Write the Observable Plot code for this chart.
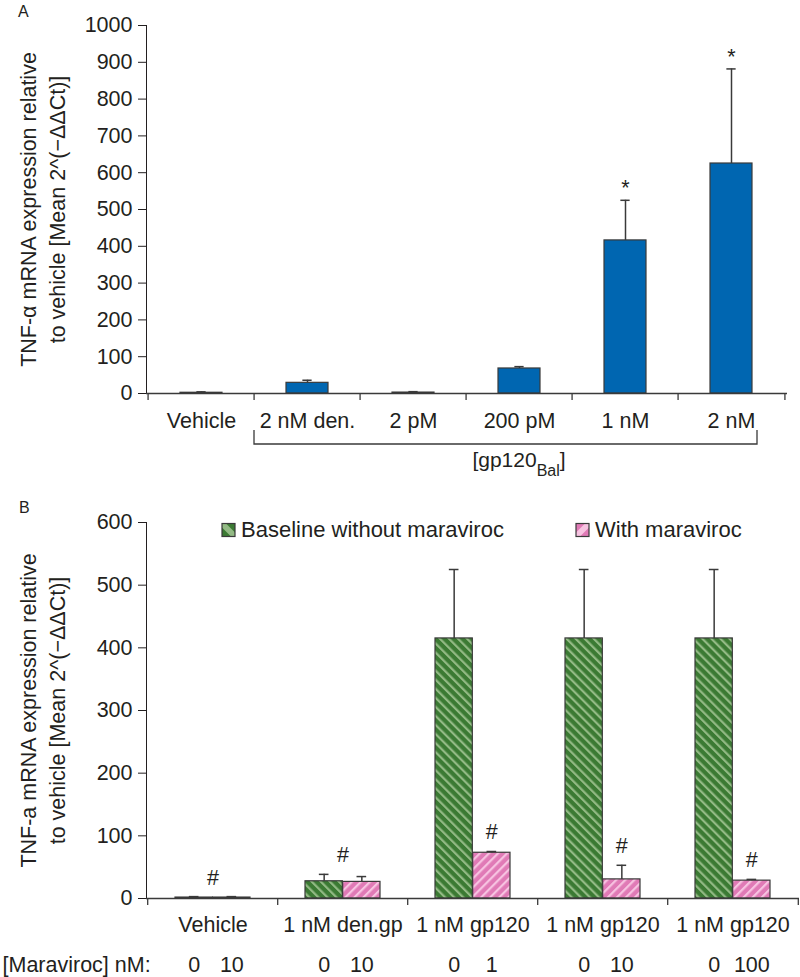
<!DOCTYPE html>
<html>
<head>
<meta charset="utf-8">
<script src="https://cdn.jsdelivr.net/npm/d3@7"></script>
<script src="https://cdn.jsdelivr.net/npm/@observablehq/plot@0.6"></script>
<style>
  body { margin: 0; background: #fff; }
  #wrap { position: relative; width: 800px; height: 977px; overflow: hidden; font-family: "Liberation Sans", Arial, Helvetica, sans-serif; color: #231f20; }
  #panelA { position: absolute; left: 0; top: 0; }
  #panelB { position: absolute; left: 0; top: 490px; }
  #overlay { position: absolute; left: 0; top: 0; pointer-events: none; }
</style>
</head>
<body>
<div id="wrap">
  <div id="panelA"></div>
  <div id="panelB"></div>
  <svg id="overlay" width="800" height="977">
    <defs>
      <pattern id="hatchGreen" patternUnits="userSpaceOnUse" width="6.4" height="6.4" patternTransform="rotate(-45)">
        <rect width="6.4" height="6.4" fill="#3b7a33"></rect>
        <rect x="0" y="0" width="2.2" height="6.4" fill="#93ba85"></rect>
      </pattern>
      <pattern id="hatchPink" patternUnits="userSpaceOnUse" width="6.4" height="6.4" patternTransform="rotate(45)">
        <rect width="6.4" height="6.4" fill="#e07ab6"></rect>
        <rect x="0" y="0" width="2.2" height="6.4" fill="#f7c3e1"></rect>
      </pattern>
    </defs>
  </svg>
</div>
<script>
// ---------------- DATA ----------------
// Panel A
const categoriesA = ["Vehicle", "2 nM den.", "2 pM", "200 pM", "1 nM", "2 nM"];
const meanA = [2, 29, 2.5, 68, 416, 625];
const errA = [2.5, 7, 2.5, 5, 109, 257];
const sigA = ["", "", "", "", "*", "*"];
const yTicksA = [0, 100, 200, 300, 400, 500, 600, 700, 800, 900, 1000];
const titleA = "TNF-\u03b1 mRNA expression relative\nto vehicle [Mean 2^(\u2212\u0394\u0394Ct)]";
const bracketStartA = "2 nM den.";
const bracketLabelA = "[gp120";
const bracketSubA = "Bal";

// Panel B
const groupLabelsB = ["Vehicle", "1 nM den.gp", "1 nM gp120", "1 nM gp120", "1 nM gp120"];
const baselineMeanB = [1.5, 27.5, 415, 415, 415];
const baselineErrB = [1.5, 11, 110, 110, 110];
const treatedMeanB = [1.5, 26.5, 73, 30.5, 28.5];
const treatedErrB = [1.5, 8.5, 2, 22.5, 2];
const baselineConcB = ["0", "0", "0", "0", "0"];
const treatedConcB = ["10", "10", "1", "10", "100"];
const sigB = ["#", "#", "#", "#", "#"];
const sigOverB = ["group", "group", "treated", "treated", "treated"];
const yTicksB = [0, 100, 200, 300, 400, 500, 600];
const titleB = "TNF-a mRNA expression relative\nto vehicle [Mean 2^(\u2212\u0394\u0394Ct)]";
const concRowLabel = "[Maraviroc] nM:";
const legendLabels = ["Baseline without maraviroc", "With maraviroc"];

// ---------------- STYLE ----------------
const FONT = '"Liberation Sans", Arial, Helvetica, sans-serif';
const INK = "#231f20";
const LINE = "#3a3a3a";
const BLUE = "#0066b1";
const W = 800;
const CAP = 10;

// ---------------- PANEL A ----------------
const dataA = categoriesA.map((c, i) => ({cat: c, mean: meanA[i], hi: meanA[i] + errA[i], sig: sigA[i]}));
const mA = {top: 25, right: 13, bottom: 97, left: 146};
const HA = 490;
const padA = 0.6;
const stepA = (W - mA.left - mA.right) / categoriesA.length;
const bwA = stepA * (1 - padA);

function bracketMark() {
  return (index, scales) => {
    const x = scales.x, y = scales.y;
    const step = x.step ? x.step() : stepA;
    const bw = x.bandwidth ? x.bandwidth() : bwA;
    const gap = (step - bw) / 2;
    const last = categoriesA[categoriesA.length - 1];
    const left = x(bracketStartA) - gap;
    const rightBound = x(last) + bw + gap;
    const right = x(last) + bw + 5;
    const y0 = y(0);
    const g = d3.create("svg:g");
    g.append("path")
      .attr("d", `M${left},${y0 + 37}V${y0 + 51}H${right}V${y0 + 37}`)
      .attr("fill", "none").attr("stroke", LINE).attr("stroke-width", 1.3);
    const t = g.append("text")
      .attr("x", (left + rightBound) / 2).attr("y", y0 + 74)
      .attr("text-anchor", "middle").attr("fill", INK)
      .attr("font-size", "21px");
    t.append("tspan").text(bracketLabelA);
    t.append("tspan").attr("dy", 9).attr("font-size", "16px").text(bracketSubA);
    t.append("tspan").attr("dy", -9).text("]");
    return g.node();
  };
}

const plotA = Plot.plot({
  width: W, height: HA,
  marginTop: mA.top, marginRight: mA.right, marginBottom: mA.bottom, marginLeft: mA.left,
  style: {fontFamily: FONT, fontSize: "21.5px", color: INK, background: "transparent", overflow: "visible"},
  x: {domain: categoriesA, paddingInner: padA, paddingOuter: padA / 2, tickSize: 0, tickPadding: 19, label: null},
  y: {domain: [0, 1000], ticks: yTicksA, tickSize: 8, tickPadding: 6, tickFormat: "d", label: null, line: true},
  marks: [
    Plot.barY(dataA, {x: "cat", y: "mean", fill: BLUE, stroke: LINE, strokeWidth: 1.2}),
    Plot.ruleX(dataA, {x: "cat", y1: "mean", y2: "hi", stroke: LINE, strokeWidth: 1.5}),
    Plot.tickY(dataA, {x: "cat", y: "hi", stroke: LINE, strokeWidth: 1.5, insetLeft: (bwA - CAP) / 2, insetRight: (bwA - CAP) / 2}),
    Plot.text(dataA.filter(d => d.sig), {x: "cat", y: "hi", text: "sig", lineAnchor: "middle", dy: -12, fill: INK}),
    Plot.ruleY([0], {stroke: LINE, strokeWidth: 1.3}),
    Plot.ruleX(categoriesA, {x: d => d, y1: () => 0, y2: () => 0, dx: -stepA / 2, insetBottom: -7, stroke: LINE, strokeWidth: 1.3}),
    Plot.ruleX(categoriesA.slice(-1), {x: d => d, y1: () => 0, y2: () => 0, dx: stepA / 2, insetBottom: -7, stroke: LINE, strokeWidth: 1.3}),
    bracketMark(),
    Plot.text([titleA], {text: d => d, frameAnchor: "left", rotate: -90, textAnchor: "middle", lineAnchor: "top", lineHeight: 1.35, dx: -131.5, fill: INK})
  ]
});
document.getElementById("panelA").appendChild(plotA);

// ---------------- PANEL B ----------------
const idxB = groupLabelsB.map((_, i) => i);
const dataB = idxB.map(i => ({
  g: i,
  base: baselineMeanB[i], baseHi: baselineMeanB[i] + baselineErrB[i],
  trt: treatedMeanB[i], trtHi: treatedMeanB[i] + treatedErrB[i],
  c0: baselineConcB[i], c1: treatedConcB[i],
  sig: sigB[i], over: sigOverB[i],
  top: Math.max(baselineMeanB[i] + baselineErrB[i], treatedMeanB[i] + treatedErrB[i])
}));
const sigDataB = dataB.map(d => ({...d, sy: d.over === "treated" ? d.trtHi : d.top}));
const mB = {top: 32, right: 1, bottom: 79, left: 146};
const HB = 487;
const padB = 0.423;
const stepB = (W - mB.left - mB.right) / groupLabelsB.length;
const bwB = stepB * (1 - padB);
const half = bwB / 2, quarter = bwB / 4;

const plotB = Plot.plot({
  width: W, height: HB,
  marginTop: mB.top, marginRight: mB.right, marginBottom: mB.bottom, marginLeft: mB.left,
  style: {fontFamily: FONT, fontSize: "21.5px", color: INK, background: "transparent", overflow: "visible"},
  x: {domain: idxB, paddingInner: padB, paddingOuter: padB / 2, tickSize: 0, tickPadding: 18, tickFormat: i => groupLabelsB[i], label: null},
  y: {domain: [0, 600], ticks: yTicksB, tickSize: 8, tickPadding: 6, tickFormat: "d", label: null, line: true},
  marks: [
    Plot.barY(dataB, {x: "g", y: "base", insetRight: half, fill: "url(#hatchGreen)", stroke: LINE, strokeWidth: 1.2}),
    Plot.barY(dataB, {x: "g", y: "trt", insetLeft: half, fill: "url(#hatchPink)", stroke: LINE, strokeWidth: 1.2}),
    Plot.ruleX(dataB, {x: "g", y1: "base", y2: "baseHi", dx: -quarter, stroke: LINE, strokeWidth: 1.5}),
    Plot.tickY(dataB, {x: "g", y: "baseHi", insetLeft: quarter - CAP / 2, insetRight: 3 * quarter - CAP / 2, stroke: LINE, strokeWidth: 1.5}),
    Plot.ruleX(dataB, {x: "g", y1: "trt", y2: "trtHi", dx: quarter, stroke: LINE, strokeWidth: 1.5}),
    Plot.tickY(dataB, {x: "g", y: "trtHi", insetLeft: 3 * quarter - CAP / 2, insetRight: quarter - CAP / 2, stroke: LINE, strokeWidth: 1.5}),
    Plot.text(sigDataB.filter(d => d.over === "group"), {x: "g", y: "sy", text: "sig", lineAnchor: "middle", dy: -19, fill: INK}),
    Plot.text(sigDataB.filter(d => d.over === "treated"), {x: "g", y: "sy", text: "sig", lineAnchor: "middle", dy: -19, dx: quarter, fill: INK}),
    Plot.ruleY([0], {stroke: LINE, strokeWidth: 1.3}),
    Plot.ruleX(idxB, {x: d => d, y1: () => 0, y2: () => 0, dx: -stepB / 2, insetBottom: -7, stroke: LINE, strokeWidth: 1.3}),
    Plot.ruleX(idxB.slice(-1), {x: d => d, y1: () => 0, y2: () => 0, dx: stepB / 2, insetBottom: -7, stroke: LINE, strokeWidth: 1.3}),
    Plot.text(dataB, {x: "g", y: () => 0, text: "c0", dx: -quarter, dy: 73.4, lineAnchor: "bottom", fill: INK}),
    Plot.text(dataB, {x: "g", y: () => 0, text: "c1", dx: quarter, dy: 73.4, lineAnchor: "bottom", fill: INK}),
    Plot.text([concRowLabel], {text: d => d, frameAnchor: "bottom-left", textAnchor: "start", lineAnchor: "bottom", dx: -144, dy: 73.4, fill: INK}),
    Plot.text([titleB], {text: d => d, frameAnchor: "left", rotate: -90, textAnchor: "middle", lineAnchor: "top", lineHeight: 1.35, dx: -131.5, fill: INK})
  ]
});
document.getElementById("panelB").appendChild(plotB);

// ---------------- OVERLAY: panel letters and legend ----------------
const ov = d3.select("#overlay");
ov.append("text").attr("x", 18).attr("y", 16.7).attr("font-size", "16px").attr("fill", INK).attr("font-family", FONT).text("A");
ov.append("text").attr("x", 19).attr("y", 513.3).attr("font-size", "16px").attr("fill", INK).attr("font-family", FONT).text("B");

const legendItems = [
  {label: legendLabels[0], x: 222, base: "#3b7a33", light: "#93ba85", dir: "\\"},
  {label: legendLabels[1], x: 576, base: "#e07ab6", light: "#f7c3e1", dir: "/"}
];
const sw = 13, swy = 523.5;
for (const it of legendItems) {
  const g = ov.append("g");
  g.append("rect").attr("x", it.x).attr("y", swy).attr("width", sw).attr("height", sw).attr("fill", it.base);
  const x0 = it.x, y0 = swy;
  const pts = it.dir === "\\"
    ? [[x0, y0], [x0 + 4, y0], [x0 + sw, y0 + sw - 4], [x0 + sw, y0 + sw], [x0 + sw - 4, y0 + sw], [x0, y0 + 4]]
    : [[x0 + sw, y0], [x0 + sw, y0 + 4], [x0 + 4, y0 + sw], [x0, y0 + sw], [x0, y0 + sw - 4], [x0 + sw - 4, y0]];
  g.append("polygon").attr("points", pts.map(p => p.join(",")).join(" ")).attr("fill", it.light);
  g.append("rect").attr("x", it.x).attr("y", swy).attr("width", sw).attr("height", sw).attr("fill", "none").attr("stroke", LINE).attr("stroke-width", 1.2);
  g.append("text").attr("x", it.x + sw + 6).attr("y", 536.7).attr("font-size", "22px").attr("font-family", FONT).attr("fill", INK).text(it.label);
}
</script>
</body>
</html>
